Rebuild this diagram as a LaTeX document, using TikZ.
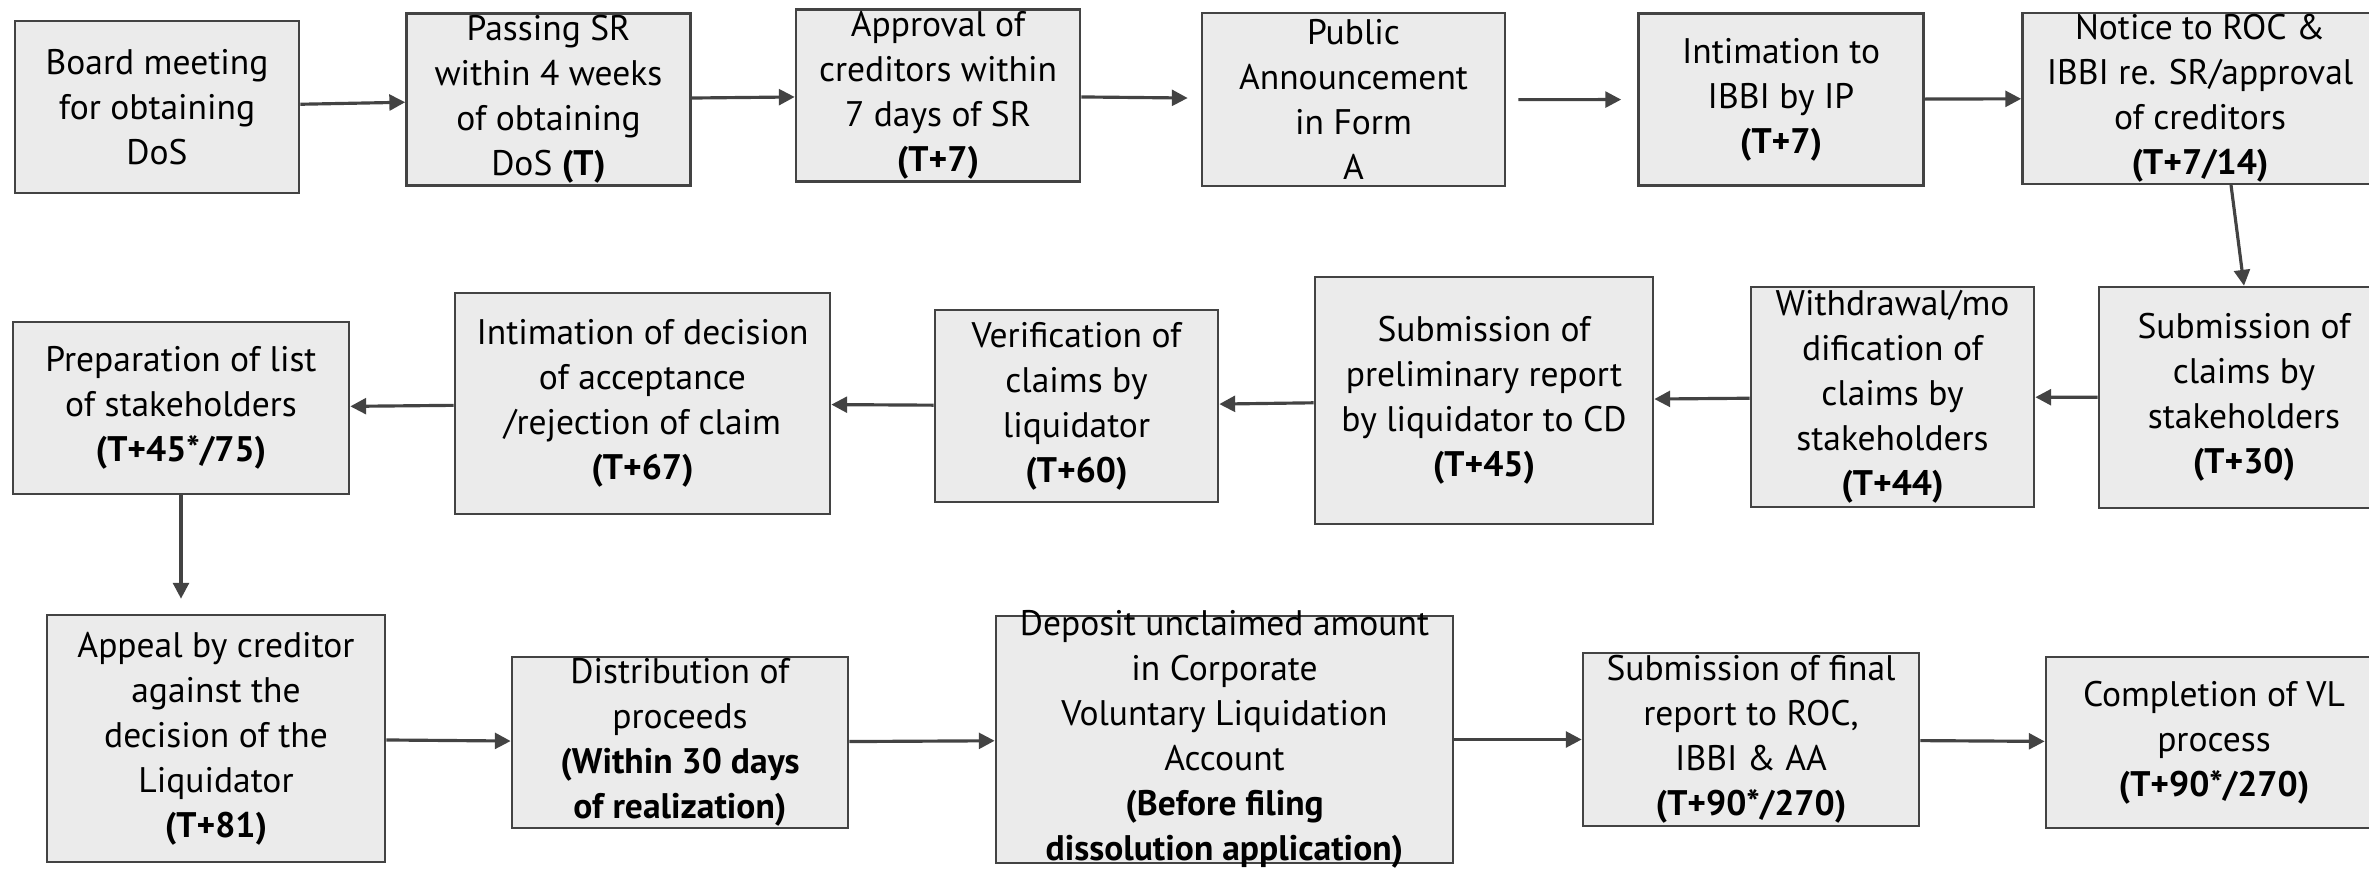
\documentclass[tikz,border=0pt]{standalone}
\usepackage{fontspec}
\setmainfont{PT Sans}
\usetikzlibrary{arrows.meta, positioning}
\definecolor{boxgray}{RGB}{235,235,235}
\definecolor{linegray}{RGB}{67,67,67}

\begin{document}
\begin{tikzpicture}[x=0.01cm, y=-0.01cm]
    % Styles
    \tikzstyle{stepbox} = [rectangle, draw=linegray, fill=boxgray, line width=0.7pt, inner sep=0pt]
    \tikzstyle{steptext} = [align=center, inner sep=0pt, font=\fontsize{10.1}{12.8}\selectfont]
    \tikzstyle{arrow} = [line width=0.9pt, linegray, -{Triangle[length=4.5pt, width=4.5pt]}]

    \useasboundingbox (0,0) rectangle (2369,873);

    % Nodes, first row
    \node [stepbox, minimum width=2.84cm, minimum height=1.72cm,
        label={[steptext]center:{Board meeting\\for obtaining\\DoS}}] (board) at (157,107) {};
    \node [stepbox, minimum width=2.84cm, minimum height=1.72cm,
        label={[steptext]center:{Passing SR\\within 4 weeks\\of obtaining\\DoS \textbf{(T)}}}] (passsr) at (548.5,99.5) {};
    \node [stepbox, minimum width=2.84cm, minimum height=1.72cm,
        label={[steptext]center:{Approval of\\creditors within\\7 days of SR\\\textbf{(T+7)}}}] (approval) at (938,95.5) {};
    \node [stepbox, minimum width=3.03cm, minimum height=1.73cm,
        label={[steptext]center:{Public\\Announcement\\in Form\\A}}] (announce) at (1353.5,99.7) {};
    \node [stepbox, minimum width=2.85cm, minimum height=1.72cm,
        label={[steptext]center:{Intimation to\\IBBI by IP\\\textbf{(T+7)}}}] (intimate) at (1781,99.5) {};
    \node [stepbox, minimum width=3.55cm, minimum height=1.71cm,
        label={[steptext]center:{Notice to ROC \&\\IBBI re. SR/approval\\of creditors\\\textbf{(T+7/14)}}}] (notice) at (2200,98.3) {};

    % Nodes, second row
    \node [stepbox, minimum width=2.90cm, minimum height=2.21cm,
        label={[steptext]center:{Submission of\\claims by\\stakeholders\\\textbf{(T+30)}}}] (claims) at (2244,397.5) {};
    \node [stepbox, minimum width=2.83cm, minimum height=2.20cm,
        label={[steptext]center:{Withdrawal/mo\\dification of\\claims by\\stakeholders\\\textbf{(T+44)}}}] (withdraw) at (1892.5,397) {};
    \node [stepbox, minimum width=3.38cm, minimum height=2.47cm,
        label={[steptext]center:{Submission of\\preliminary report\\by liquidator to CD\\\textbf{(T+45)}}}] (prelim) at (1484,400.5) {};
    \node [stepbox, minimum width=2.83cm, minimum height=1.92cm,
        label={[steptext]center:{Verification of\\claims by\\liquidator\\\textbf{(T+60)}}}] (verify) at (1076.5,406) {};
    \node [stepbox, minimum width=3.75cm, minimum height=2.21cm,
        label={[steptext]center:{Intimation of decision\\of acceptance\\/rejection of claim\\\textbf{(T+67)}}}] (decision) at (642.5,403.5) {};
    \node [stepbox, minimum width=3.36cm, minimum height=1.72cm,
        label={[steptext]center:{Preparation of list\\of stakeholders\\\textbf{(T+45*/75)}}}] (stlist) at (181,408) {};

    % Nodes, third row
    \node [stepbox, minimum width=3.38cm, minimum height=2.47cm,
        label={[steptext]center:{Appeal by creditor\\against the\\decision of the\\Liquidator\\\textbf{(T+81)}}}] (appeal) at (216,738.5) {};
    \node [stepbox, minimum width=3.36cm, minimum height=1.71cm,
        label={[steptext]center:{Distribution of\\proceeds\\\textbf{(Within 30 days}\\\textbf{of realization)}}}] (distrib) at (680,742.5) {};
    \node [stepbox, minimum width=4.57cm, minimum height=2.47cm,
        label={[steptext]center:{Deposit unclaimed amount\\in Corporate\\Voluntary Liquidation\\Account\\\textbf{(Before filing}\\\textbf{dissolution application)}}}] (deposit) at (1224.5,739.5) {};
    \node [stepbox, minimum width=3.36cm, minimum height=1.73cm,
        label={[steptext]center:{Submission of final\\report to ROC,\\IBBI \& AA\\\textbf{(T+90*/270)}}}] (final) at (1751,739.5) {};
    \node [stepbox, minimum width=3.36cm, minimum height=1.71cm,
        label={[steptext]center:{Completion of VL\\process\\\textbf{(T+90*/270)}}}] (complete) at (2214,742.5) {};

    % Arrows
    \draw [arrow] (board) -- (passsr);
    \draw [arrow] (passsr) -- (approval);
    \draw [arrow, shorten >=0.13cm] (approval) -- (announce);
    \draw [arrow, shorten <=0.12cm, shorten >=0.16cm] (announce) -- (intimate);
    \draw [arrow] (intimate) -- (notice);
    \draw [arrow] ([xshift=0.31cm]notice.south) -- (claims.north);
    \draw [arrow] (claims) -- (withdraw);
    \draw [arrow] (withdraw) -- (prelim);
    \draw [arrow] (prelim) -- (verify);
    \draw [arrow] (verify) -- (decision);
    \draw [arrow] (decision) -- (stlist);
    \draw [arrow, shorten >=0.15cm] (stlist.south) -- (stlist.south |- appeal.north);
    \draw [arrow] (appeal) -- (distrib);
    \draw [arrow] (distrib) -- (deposit);
    \draw [arrow] (deposit) -- (final);
    \draw [arrow] (final) -- (complete);
\end{tikzpicture}
\end{document}
